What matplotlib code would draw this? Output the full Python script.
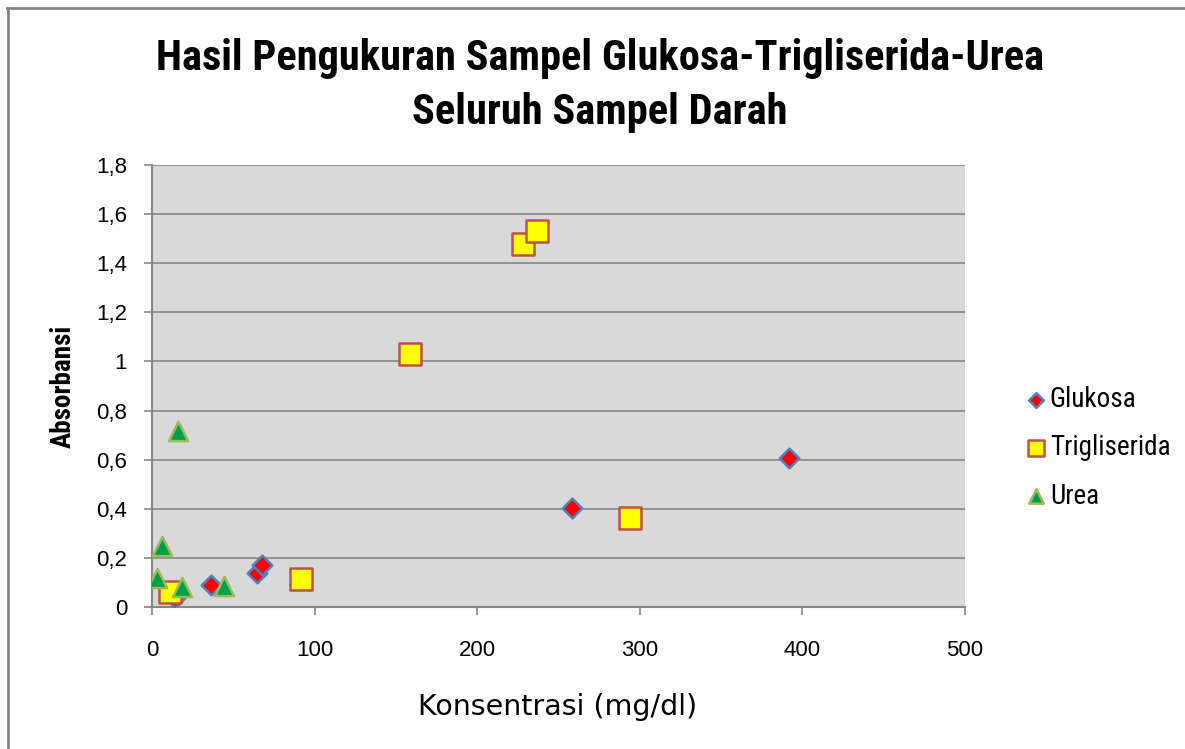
import matplotlib
matplotlib.use("Agg")
import matplotlib.pyplot as plt
from matplotlib.lines import Line2D
from matplotlib.ticker import FuncFormatter

glukosa_x = [14, 36, 64.6, 67.7, 258, 392]
glukosa_y = [0.035, 0.09, 0.138, 0.171, 0.403, 0.607]
trig_x = [11, 91.6, 158.7, 228, 237, 294]
trig_y = [0.06, 0.114, 1.03, 1.478, 1.531, 0.362]
urea_x = [3, 6, 16, 18.5, 44]
urea_y = [0.12, 0.25, 0.717, 0.08, 0.085]

title_lines = ["Hasil Pengukuran Sampel Glukosa-Trigliserida-Urea", "Seluruh Sampel Darah"]
xlabel = "Konsentrasi (mg/dl)"
ylabel = "Absorbansi"
xticks = [0, 100, 200, 300, 400, 500]
yticks = [0, 0.2, 0.4, 0.6, 0.8, 1.0, 1.2, 1.4, 1.6, 1.8]

NARROW = ["Roboto Condensed", "PT Sans Narrow", "Liberation Sans", "DejaVu Sans"]
ARIAL = ["Liberation Sans", "DejaVu Sans"]

W, H = 1185, 749
fig = plt.figure(figsize=(W / 100, H / 100), dpi=100)
ax = fig.add_axes([152 / W, 1 - 607 / H, (965 - 152) / W, (607 - 165) / H])
ax.set_facecolor("#d9d9d9")

ax.scatter(glukosa_x, glukosa_y, marker="D", s=100, c="#ff0000", edgecolors="#4f81bd", linewidths=1.8, label="Glukosa", zorder=3)
ax.scatter(trig_x, trig_y, marker="s", s=250, c="#ffff00", edgecolors="#c0504d", linewidths=1.8, label="Trigliserida", zorder=3)
ax.scatter(urea_x, urea_y, marker="^", s=190, c="#00a04a", edgecolors="#9bbb59", linewidths=1.8, label="Urea", zorder=3)

ax.set_xlim(0, 500)
ax.set_ylim(0, 1.8)
ax.set_xticks(xticks)
ax.set_yticks(yticks)
ax.yaxis.set_major_formatter(FuncFormatter(lambda v, p: ("%g" % round(v, 1)).replace(".", ",")))
ax.grid(axis="y", color="#868686", linewidth=1.2)
ax.set_axisbelow(True)
for s in ["top", "right"]:
    ax.spines[s].set_visible(False)
for s in ["left", "bottom"]:
    ax.spines[s].set_color("#868686")
    ax.spines[s].set_linewidth(1.5)
ax.tick_params(axis="both", colors="#868686", length=6, width=1.2, labelcolor="black", labelsize=16)
ax.tick_params(axis="y", pad=12)
ax.tick_params(axis="x", pad=18)
for lab in ax.get_xticklabels() + ax.get_yticklabels():
    lab.set_fontfamily(ARIAL)

ax.set_xlabel(xlabel, fontsize=20.5, labelpad=23, fontfamily=["DejaVu Sans"])
ax.xaxis.label.set_x((558 - 152) / (965 - 152))
ax.set_ylabel(ylabel, fontsize=19.5, fontweight="bold", labelpad=14, fontfamily=NARROW)

fig.text(600 / W, 1 - 70 / H, title_lines[0], ha="center", va="baseline", fontsize=30.5, fontweight="bold", fontfamily=NARROW)
fig.text(600 / W, 1 - 124 / H, title_lines[1], ha="center", va="baseline", fontsize=30.5, fontweight="bold", fontfamily=NARROW)

leg = ax.legend(loc="center left", bbox_to_anchor=(1.041, 0.36), frameon=False,
                handletextpad=0.0, labelspacing=0.78, handlelength=1.0, markerscale=0.75,
                prop={"family": NARROW, "size": 19.5})

fig.add_artist(Line2D([7 / W, 1], [1 - 8 / H, 1 - 8 / H], color="#868686", linewidth=2, transform=fig.transFigure))
fig.add_artist(Line2D([8 / W, 8 / W], [0, 1 - 8 / H], color="#868686", linewidth=2, transform=fig.transFigure))

fig.savefig("out.png", dpi=100)
